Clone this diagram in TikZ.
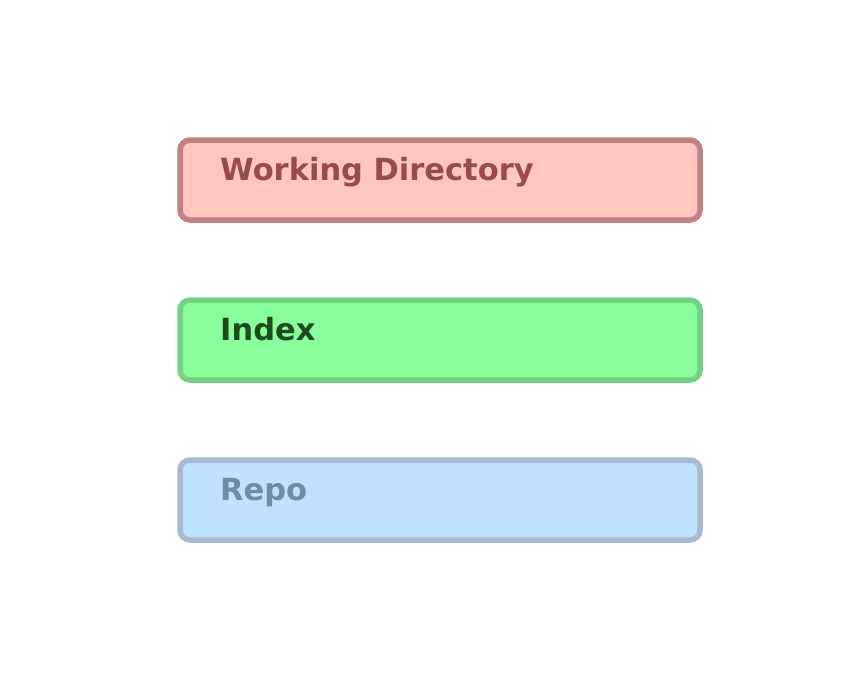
\documentclass[tikz,border=0pt]{standalone}
\usepackage{fontspec}
\setmainfont{DejaVu Sans}
\definecolor{wdfill}{HTML}{FFC7C0}
\definecolor{wdline}{HTML}{C47F7F}
\definecolor{wdtext}{HTML}{9A4A4A}
\definecolor{ixfill}{HTML}{88FF9C}
\definecolor{ixline}{HTML}{72D284}
\definecolor{ixtext}{HTML}{1F4A1F}
\definecolor{rpfill}{HTML}{C0E2FF}
\definecolor{rpline}{HTML}{A8BBD2}
\definecolor{rptext}{HTML}{6F8CA3}
\begin{document}
\begin{tikzpicture}[x=1pt,y=-1pt,
  area/.style={line width=5.5pt,rounded corners=10pt},
  areatitle/.style={anchor=base west,inner sep=0pt,font=\fontsize{30.5}{36}\selectfont\bfseries}]
\useasboundingbox (0,0) rectangle (860,680);
% three storage areas, top to bottom
\draw[area,draw=wdline,fill=wdfill] (180,140) rectangle (700,220);
\node[areatitle,text=wdtext] (wd) at (220,180) {Working Directory};
\draw[area,draw=ixline,fill=ixfill] (180,300) rectangle (700,380);
\node[areatitle,text=ixtext] (ix) at (220,340) {Index};
\draw[area,draw=rpline,fill=rpfill] (180,460) rectangle (700,540);
\node[areatitle,text=rptext] (rp) at (220,500) {Repo};
\end{tikzpicture}
\end{document}
